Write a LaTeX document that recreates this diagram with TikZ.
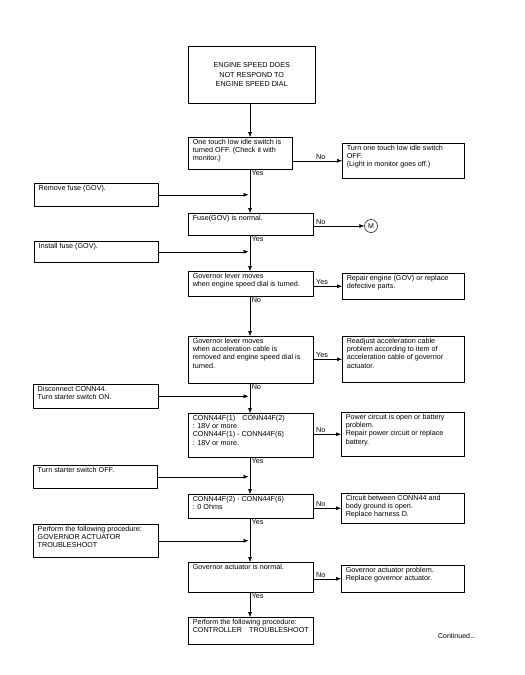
\documentclass[tikz,border=0pt]{standalone}
\usepackage{fontspec}
\setmainfont{Liberation Sans}
\usetikzlibrary{arrows.meta}
\newcommand\bxt[3]{\parbox[c][#2][t]{#1}{\vspace*{1.8pt}\hspace*{4.5pt}\begin{tabular}[t]{@{}l@{}}#3\end{tabular}}}
\tikzset{
  box/.style={draw=black, line width=0.5pt, inner sep=0pt, anchor=north west, font=\fontsize{7.2}{8.1}\selectfont},
  arr/.style={draw=black, line width=0.5pt, -{Latex[length=5pt,width=4pt]}},
  lbl/.style={inner sep=1pt, font=\fontsize{7.2}{8}\selectfont},
}
\begin{document}
\begin{tikzpicture}[x=1pt,y=-1pt]
\useasboundingbox[fill=white] (0,0) rectangle (525,675);
\coordinate (mx) at (250,0);
\coordinate (lx) at (315,0);
% main column
\node[box, minimum width=127pt, minimum height=57pt, align=center, font=\fontsize{7.2}{9.5}\selectfont] (top) at (188,46) {ENGINE SPEED DOES\\NOT RESPOND TO\\ENGINE SPEED DIAL};
\node[box] (q1) at (188,137) {\bxt{104pt}{32pt}{One touch low idle switch is\\turned OFF. (Check it with\\monitor.)}};
\node[box] (q2) at (188,213) {\bxt{125pt}{22pt}{Fuse(GOV) is normal.}};
\node[box] (q3) at (188,271) {\bxt{125pt}{25pt}{Governor lever moves\\when engine speed dial is turned.}};
\node[box] (q4) at (188,336) {\bxt{125pt}{47pt}{Governor lever moves\\when acceleration cable is\\removed and engine speed dial is\\turned.}};
\node[box] (q5) at (188,413) {\bxt{125pt}{44pt}{CONN44F(1)\quad CONN44F(2)\\: 18V or more.\\CONN44F(1) - CONN44F(6)\\: 18V or more.}};
\node[box] (q6) at (188,494) {\bxt{125pt}{24pt}{CONN44F(2) - CONN44F(6)\\: 0 Ohms}};
\node[box] (q7) at (188,562) {\bxt{125pt}{30pt}{Governor actuator is normal.}};
\node[box] (fin) at (188,617) {\bxt{125pt}{27pt}{Perform the following procedure:\\CONTROLLER\quad TROUBLESHOOT}};
% right column
\node[box] (r1) at (342,143) {\bxt{122pt}{35pt}{Turn one touch low idle switch\\OFF.\\(Light in monitor goes off.)}};
\node[circle, draw=black, line width=0.5pt, minimum size=13pt, inner sep=0pt, font=\fontsize{7}{8}\selectfont] (m) at (371,226) {M};
\node[box] (r3) at (342,273) {\bxt{122pt}{26pt}{Repair engine (GOV) or replace\\defective parts.}};
\node[box] (r4) at (342,336) {\bxt{122pt}{46pt}{Readjust acceleration cable\\problem according to item of\\acceleration cable of governor\\actuator.}};
\node[box] (r5) at (341,412) {\bxt{123pt}{44pt}{Power circuit is open or battery\\problem.\\Repair power circuit or replace\\battery.}};
\node[box] (r6) at (341,493) {\bxt{123pt}{30pt}{Circuit between CONN44 and\\body ground is open.\\Replace harness D.}};
\node[box] (r7) at (341,565) {\bxt{123pt}{27pt}{Governor actuator problem.\\Replace governor actuator.}};
% left column
\node[box] (l1) at (34,183) {\bxt{124pt}{23pt}{Remove fuse (GOV).}};
\node[box] (l2) at (34,241) {\bxt{124pt}{21pt}{Install fuse (GOV).}};
\node[box] (l3) at (33,384) {\bxt{125pt}{24pt}{Disconnect CONN44.\\Turn starter switch ON.}};
\node[box] (l4) at (33,465) {\bxt{124pt}{23pt}{Turn starter switch OFF.}};
\node[box] (l5) at (33,524) {\bxt{125pt}{33pt}{Perform the following procedure:\\GOVERNOR ACTUATOR\\TROUBLESHOOT}};
\node[lbl, font=\fontsize{7}{8}\selectfont] (cont) at (457,636) {Continued...};
% vertical connectors
\draw[arr] (top.south -| mx) -- (q1.north -| mx);
\draw[arr] (q1.south -| mx) -- node[pos=0, lbl, anchor=north west, xshift=0.5pt] (y1) {Yes} (q2.north -| mx);
\draw[arr] (q2.south -| mx) -- node[pos=0, lbl, anchor=north west, xshift=0.5pt] (y2) {Yes} (q3.north -| mx);
\draw[arr] (q3.south -| mx) -- node[pos=0, lbl, anchor=north west, xshift=0.5pt] (n3) {No} (q4.north -| mx);
\draw[arr] (q4.south -| mx) -- node[pos=0, lbl, anchor=north west, xshift=0.5pt] (n4) {No} (q5.north -| mx);
\draw[arr] (q5.south -| mx) -- node[pos=0, lbl, anchor=north west, xshift=0.5pt] (y5) {Yes} (q6.north -| mx);
\draw[arr] (q6.south -| mx) -- node[pos=0, lbl, anchor=north west, xshift=0.5pt] (y6) {Yes} (q7.north -| mx);
\draw[arr] (q7.south -| mx) -- node[pos=0, lbl, anchor=north west, xshift=0.5pt] (y7) {Yes} (fin.north -| mx);
% left connectors
\foreach \b in {l1,l2,l3,l4,l5}{
  \draw[arr, shorten >=1.5pt] (\b.east) -- (\b.east -| mx);
}
% right connectors
\draw[arr] (q1.east |- r1.west) -- (r1.west);
\node[lbl, anchor=south west] (ln1) at (r1.west -| lx) {No};
\draw[arr] (q2.east |- m.west) -- (m.west);
\node[lbl, anchor=south west] (ln2) at (m.west -| lx) {No};
\draw[arr] (q3.east |- r3.west) -- (r3.west);
\node[lbl, anchor=south west] (ln3) at (r3.west -| lx) {Yes};
\draw[arr] (q4.east |- r4.west) -- (r4.west);
\node[lbl, anchor=south west] (ln4) at (r4.west -| lx) {Yes};
\draw[arr] (q5.east |- r5.west) -- (r5.west);
\node[lbl, anchor=south west] (ln5) at (r5.west -| lx) {No};
\draw[arr] (q6.east |- r6.west) -- (r6.west);
\node[lbl, anchor=south west] (ln6) at (r6.west -| lx) {No};
\draw[arr] (q7.east |- r7.west) -- (r7.west);
\node[lbl, anchor=south west] (ln7) at (r7.west -| lx) {No};
\end{tikzpicture}
\end{document}
